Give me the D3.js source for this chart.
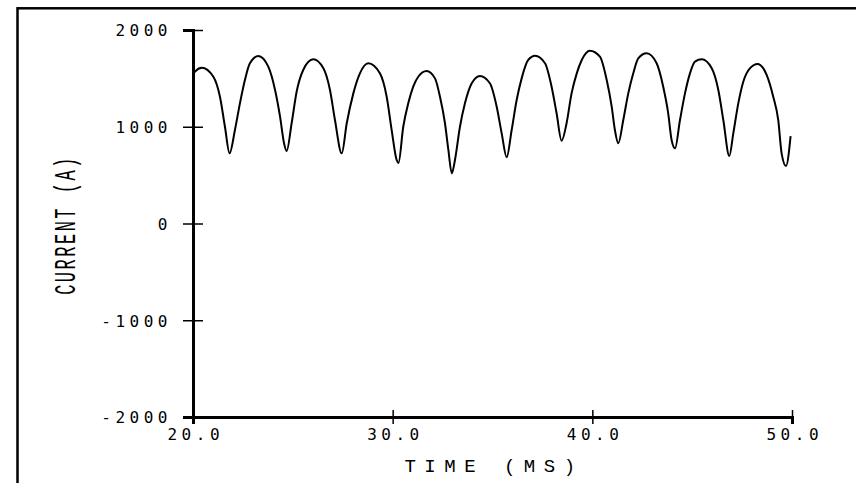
<!DOCTYPE html>
<html>
<head>
<meta charset="utf-8">
<script src="https://cdn.jsdelivr.net/npm/d3@7"></script>
<style>
	body { margin: 0; background: #fff; }
	svg { display: block; }
</style>
</head>
<body>
<svg></svg>
<script>
// values (time in ms, current in A)
const timeMs = [
	20.0, 20.1, 20.44, 21.02, 21.35, 21.6, 21.83, 22.1, 22.35, 22.6, 22.85, 23.27,
	23.77, 24.11, 24.36, 24.56, 24.69, 24.94, 25.19, 25.52, 26.02,
	26.53, 26.86, 27.11, 27.45, 27.7, 28.03, 28.36, 28.78,
	29.36, 29.7, 29.95, 30.2, 30.29, 30.53, 30.78, 31.03, 31.28, 31.7,
	32.12, 32.37, 32.62, 32.79, 32.96, 33.12, 33.37, 33.62, 33.96, 34.37,
	34.87, 35.21, 35.46, 35.71, 35.96, 36.21, 36.46, 36.79, 37.13,
	37.63, 37.96, 38.21, 38.46, 38.71, 38.96, 39.22, 39.47, 39.88,
	40.38, 40.72, 40.97, 41.13, 41.3, 41.55, 41.8, 42.05, 42.3, 42.72,
	43.22, 43.55, 43.8, 43.97, 44.14, 44.39, 44.64, 44.89, 45.14, 45.48,
	45.98, 46.31, 46.56, 46.86, 47.06, 47.31, 47.56, 47.89, 48.28,
	48.73, 49.06, 49.31, 49.48, 49.7, 49.93
]
const currentA = [
	1540, 1569, 1610, 1517, 1310, 1000, 725, 966, 1242, 1483, 1656, 1731,
	1621, 1380, 1104, 829, 749, 1036, 1362, 1587, 1697,
	1604, 1380, 1070, 725, 1036, 1345, 1552, 1656,
	1552, 1310, 966, 656, 625, 1000, 1242, 1414, 1517, 1576,
	1500, 1310, 1036, 760, 518, 656, 1000, 1242, 1449, 1525,
	1449, 1207, 932, 684, 966, 1276, 1500, 1690, 1734,
	1656, 1414, 1139, 856, 1036, 1345, 1552, 1690, 1786,
	1724, 1483, 1207, 966, 829, 1070, 1345, 1552, 1707, 1759,
	1656, 1414, 1139, 863, 777, 1070, 1345, 1552, 1673, 1697,
	1604, 1380, 1070, 698, 932, 1242, 1466, 1604, 1649,
	1535, 1310, 1070, 725, 594, 904
]
const xTicks = [20, 30, 40, 50]
const xTickLabels = ['20.0', '30.0', '40.0', '50.0']
const yTicks = [-2000, -1000, 0, 1000, 2000]
const yTickLabels = ['-2000', '-1000', '0', '1000', '2000']

const width = 856,
	height = 483

const svg = d3.select('svg')
	.attr('width', width)
	.attr('height', height)

// frame, only top and left edges show
svg.append('rect')
	.attr('x', 17.5)
	.attr('y', 8.3)
	.attr('width', 1000)
	.attr('height', 1000)
	.attr('fill', 'none')
	.attr('stroke', '#000')
	.attr('stroke-width', 2.5)

const x = d3.scaleLinear().domain([20, 50]).range([193, 792])
const y = d3.scaleLinear().domain([-2000, 2000]).range([417, 30])

const mono = "'DejaVu Sans Mono', monospace"

const yAxis = svg.append('g')
	.attr('transform', 'translate(' + x(20) + ',0)')
	.call(d3.axisLeft(y)
		.tickValues(yTicks)
		.tickFormat((d, i) => yTickLabels[i])
		.tickSizeOuter(0)
		.tickSize(10))
yAxis.select('.domain').attr('stroke-width', 3).attr('stroke', '#000')
yAxis.selectAll('.tick line').attr('x1', 10).attr('stroke-width', 1.5)
yAxis.selectAll('.tick text')
	.attr('x', -21)
	.attr('dy', '0.36em')
	.attr('font-family', mono)
	.attr('font-size', 16)
	.attr('letter-spacing', 4.5)
	.attr('fill', '#000')

const xAxis = svg.append('g')
	.attr('transform', 'translate(0,' + y(-2000) + ')')
	.call(d3.axisBottom(x)
		.tickValues(xTicks)
		.tickFormat((d, i) => xTickLabels[i])
		.tickSizeOuter(0)
		.tickSize(7))
xAxis.select('.domain').attr('stroke-width', 3).attr('stroke', '#000')
xAxis.selectAll('.tick line').attr('y1', -7).attr('stroke-width', 1.5)
xAxis.selectAll('.tick text')
	.attr('y', 12)
	.attr('dx', 2.25)
	.attr('dy', '0.71em')
	.attr('font-family', mono)
	.attr('font-size', 16)
	.attr('letter-spacing', 4.5)
	.attr('fill', '#000')

svg.append('path')
	.datum(d3.range(timeMs.length))
	.attr('fill', 'none')
	.attr('stroke', '#000')
	.attr('stroke-width', 2)
	.attr('stroke-linejoin', 'round')
	.attr('d', d3.line()
		.curve(d3.curveMonotoneX)
		.x(i => x(timeMs[i]))
		.y(i => y(currentA[i])))

svg.append('text')
	.attr('x', 494)
	.attr('y', 472)
	.attr('text-anchor', 'middle')
	.attr('font-family', "'Liberation Mono', monospace")
	.attr('font-size', 19)
	.attr('letter-spacing', 8.5)
	.text('TIME (MS)')

svg.append('text')
	.attr('transform', 'translate(75,225) rotate(-90) scale(1,1.75)')
	.attr('text-anchor', 'middle')
	.attr('font-family', "'Liberation Mono', monospace")
	.attr('font-size', 17)
	.attr('letter-spacing', 2.5)
	.text('CURRENT (A)')
</script>
</body>
</html>
